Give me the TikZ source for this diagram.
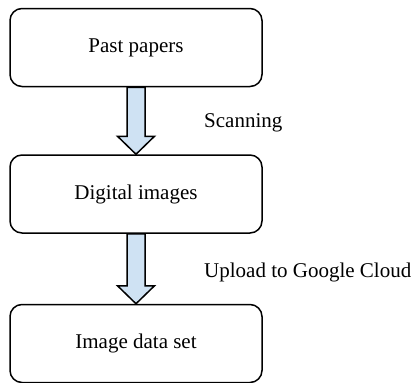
\documentclass[tikz,border=0pt]{standalone}
\usepackage{fontspec}
\setmainfont{Liberation Serif}
\usetikzlibrary{calc}

\definecolor{flowblue}{HTML}{CFE2F3}

\tikzset{
  stepbox/.style={draw, line width=1.5pt, rounded corners=12pt,
    minimum width=252pt, minimum height=78pt, inner sep=0pt,
    font=\fontsize{21}{25}\selectfont},
  blockarrow/.style={draw, line width=1.5pt, fill=flowblue, line join=miter},
  steplabel/.style={anchor=base west, inner sep=0pt,
    font=\fontsize{21}{25}\selectfont}
}

\begin{document}
\begin{tikzpicture}[x=1pt, y=1pt]
    \useasboundingbox (0,0) rectangle (416,-383);

    % Boites
    \node[stepbox] (papers) at (136,-47.5) {Past papers};
    \node[stepbox] (digital) at (136,-194) {Digital images};
    \node[stepbox] (dataset) at (136,-343.5) {Image data set};

    % Fleches
    \draw[blockarrow] ($(papers.south)+(-9,0)$) -- ($(papers.south)+(9,0)$)
      -- ($(digital.north)+(9,18)$) -- ($(digital.north)+(18.5,18)$)
      -- (digital.north) -- ($(digital.north)+(-18.5,18)$)
      -- ($(digital.north)+(-9,18)$) -- cycle;
    \draw[blockarrow] ($(digital.south)+(-9,0)$) -- ($(digital.south)+(9,0)$)
      -- ($(dataset.north)+(9,18)$) -- ($(dataset.north)+(18.5,18)$)
      -- (dataset.north) -- ($(dataset.north)+(-18.5,18)$)
      -- ($(dataset.north)+(-9,18)$) -- cycle;

    % Etiquettes
    \node[steplabel] (scan) at (204,-127) {Scanning};
    \node[steplabel] (upload) at (204,-277) {Upload to Google Cloud};
  \end{tikzpicture}
\end{document}
